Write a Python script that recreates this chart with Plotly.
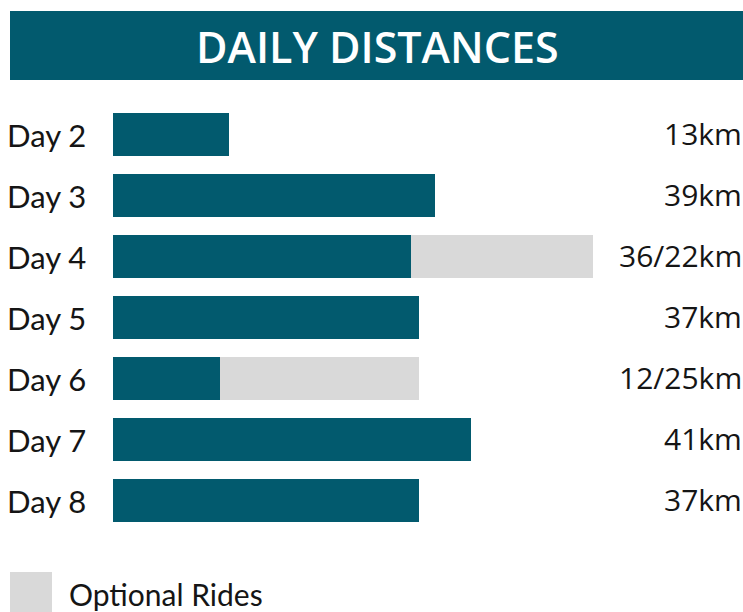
import plotly.graph_objects as go

days = ["Day 2", "Day 3", "Day 4", "Day 5", "Day 6", "Day 7", "Day 8"]
main_km = [14.0, 38.9, 36.0, 37.0, 12.9, 43.3, 37.0]
optional_km = [0, 0, 22.0, 0, 24.1, 0, 0]
value_labels = ["13km", "39km", "36/22km", "37km", "12/25km", "41km", "37km"]

TEAL = "#025a6e"
GREY = "#d9d9d9"
TEXT = "#151515"
FONT = "Lato"
FONT2 = "Open Sans"

W, H = 743, 612
ML, MR, MT, MB = 113, 2, 104, 81
PW = W - ML - MR
PH = H - MT - MB
PX_PER_KM = 8.27
XMAX = PW / PX_PER_KM


def px_x(px):
    return (px - ML) / PW


def px_y(py):
    return (H - MB - py) / PH


fig = go.Figure()
fig.add_trace(go.Bar(y=days, x=main_km, orientation="h", marker=dict(color=TEAL, line=dict(width=0)),
                     width=0.705, showlegend=False, hoverinfo="skip"))
fig.add_trace(go.Bar(y=days, x=optional_km, orientation="h", marker=dict(color=GREY, line=dict(width=0)),
                     width=0.705, showlegend=False, hoverinfo="skip"))

annotations = []
for d, lab in zip(days, value_labels):
    annotations.append(dict(x=1, xref="paper", y=d, yref="y", text=lab, showarrow=False,
                            xanchor="right", yanchor="middle", xshift=3, yshift=1,
                            font=dict(family=FONT2, size=30, color=TEXT)))
    annotations.append(dict(x=px_x(8), xref="paper", y=d, yref="y", text=d, showarrow=False,
                            xanchor="left", yanchor="middle", xshift=-3,
                            font=dict(family=FONT, size=31, color=TEXT)))

annotations.append(dict(x=px_x(377), xref="paper", y=px_y(46), yref="paper", text="DAILY DISTANCES",
                        showarrow=False, xanchor="center", yanchor="middle",
                        font=dict(family=FONT2, size=43, color="white", weight=600)))
annotations.append(dict(x=px_x(70), xref="paper", y=px_y(594), yref="paper", text="Optional Rides",
                        showarrow=False, xanchor="left", yanchor="middle", xshift=-3,
                        font=dict(family=FONT, size=30, color=TEXT)))

shapes = [
    dict(type="rect", xref="paper", yref="paper", x0=px_x(10), x1=px_x(745), y0=px_y(80), y1=px_y(11),
         fillcolor=TEAL, line=dict(width=0), layer="below"),
    dict(type="rect", xref="paper", yref="paper", x0=px_x(10), x1=px_x(52), y0=px_y(620), y1=px_y(572),
         fillcolor=GREY, line=dict(width=0), layer="below"),
]

fig.update_layout(
    width=W, height=H,
    margin=dict(l=ML, r=MR, t=MT, b=MB, pad=0),
    barmode="stack",
    paper_bgcolor="white", plot_bgcolor="white",
    xaxis=dict(range=[0, XMAX], visible=False, fixedrange=True),
    yaxis=dict(categoryorder="array", categoryarray=days, autorange="reversed",
               range=[6.5, -0.5], showticklabels=False, showgrid=False, zeroline=False, fixedrange=True),
    annotations=annotations,
    shapes=shapes,
    showlegend=False,
)

fig.write_html("out.html", config={"displayModeBar": False})
